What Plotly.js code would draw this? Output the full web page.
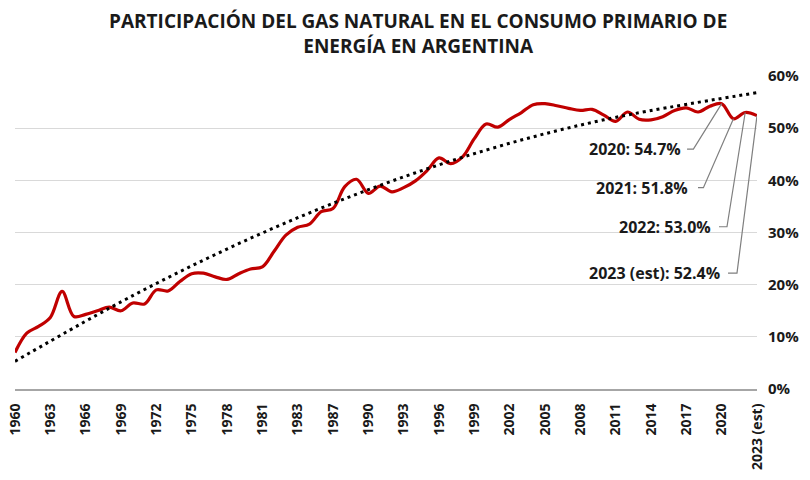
<!DOCTYPE html>
<html>
<head>
<meta charset="utf-8">
<script src="https://cdn.plot.ly/plotly-3.0.1.min.js"></script>
<style>html,body{margin:0;padding:0;background:#fff;}#chart{width:810px;height:480px;}</style>
</head>
<body>
<div id="chart"></div>
<script>
// ---- data ----
const years = [1960,1961,1962,1963,1964,1965,1966,1967,1968,1969,
               1970,1971,1972,1973,1974,1975,1976,1977,1978,1979,
               1980,1981,1982,1983,1984,1985,1986,1987,1988,1989,
               1990,1991,1992,1993,1994,1995,1996,1997,1998,1999,
               2000,2001,2002,2003,2004,2005,2006,2007,2008,2009,
               2010,2011,2012,2013,2014,2015,2016,2017,2018,2019,
               2020,2021,2022,2023];
const gasShare = [7.0,10.7,12.0,13.7,18.7,13.9,14.3,15.0,15.7,15.0,
                  16.5,16.3,19.0,18.8,20.6,22.1,22.2,21.5,21.0,22.1,
                  23.0,23.4,26.4,29.5,31.0,31.6,34.0,34.6,38.8,40.2,
                  37.5,38.9,37.8,38.6,39.9,41.9,44.3,43.2,44.5,48.0,
                  50.8,50.2,51.7,53.0,54.5,54.7,54.3,53.8,53.4,53.6,
                  52.5,51.3,53.1,51.7,51.6,52.2,53.4,53.9,53.1,54.2,
                  54.7,51.8,53.0,52.4];
// trend line (polynomial trend)
const trendYears  = [1960,1970,1980,1990,2000,2010,2023];
const trendValues = [5.3,17.9,28.9,38.2,45.8,51.6,56.8];
// tick labels
const tickYears  = [1960,1963,1966,1969,1972,1975,1978,1981,1984,1987,1990,
                    1993,1996,1999,2002,2005,2008,2011,2014,2017,2020,2023];
const tickLabels = ['1960','1963','1966','1969','1972','1975','1978','1981','1983','1987','1990',
                    '1993','1996','1999','2002','2005','2008','2011','2014','2017','2020','2023 (est)'];
const yTicks = [0,10,20,30,40,50,60];
const yTickLabels = ['0%','10%','20%','30%','40%','50%','60%'];
// labelled points
const labelYears = [2020,2021,2022,2023];
const labelNames = ['2020','2021','2022','2023 (est)'];
const titleText = 'PARTICIPACIÓN DEL GAS NATURAL EN EL CONSUMO PRIMARIO DE<br>ENERGÍA EN ARGENTINA';

// ---- layout helpers (label placement, in axis units) ----
const labelPos = [
  {tx:2016.72, ty:46.0, x0:2017.06, x1:2017.60},
  {tx:2017.31, ty:38.6, x0:2017.99, x1:2018.45},
  {tx:2019.26, ty:31.1, x0:2019.77, x1:2020.45},
  {tx:2020.03, ty:22.2, x0:2020.54, x1:2021.30}
];

const FONT = 'Open Sans, sans-serif';
const traces = [
  {
    x: years, y: gasShare, type: 'scatter', mode: 'lines',
    line: {color: '#c00000', width: 3.2, shape: 'spline', smoothing: 1},
    hoverinfo: 'skip', showlegend: false
  },
  {
    x: trendYears, y: trendValues, type: 'scatter', mode: 'lines',
    line: {color: '#000000', width: 3, shape: 'spline', dash: '3px,4px'},
    hoverinfo: 'skip', showlegend: false
  }
];

const annotations = [];
const shapes = [];
labelYears.forEach((yr, i) => {
  const v = gasShare[years.indexOf(yr)];
  const p = labelPos[i];
  annotations.push({
    x: p.tx, y: p.ty, xref: 'x', yref: 'y',
    text: '<b>' + labelNames[i] + ': ' + v.toFixed(1) + '%</b>',
    showarrow: false, xanchor: 'right', yanchor: 'middle',
    font: {family: FONT, size: 16, color: '#1a1a1a'}
  });
  shapes.push({
    type: 'path', xref: 'x', yref: 'y',
    path: 'M' + p.x0 + ',' + p.ty + ' L' + p.x1 + ',' + p.ty + ' L' + yr + ',' + v,
    line: {color: '#7f7f7f', width: 1.2}
  });
});
// title as a paper annotation
annotations.push({
  xref: 'paper', yref: 'paper', x: 0.543, y: 1.225,
  xanchor: 'center', yanchor: 'top', showarrow: false,
  text: '<b>' + titleText + '</b>',
  font: {family: FONT, size: 19, color: '#1a1a1a'}
});

const layout = {
  width: 810, height: 480,
  paper_bgcolor: '#ffffff', plot_bgcolor: '#ffffff',
  margin: {l: 15, r: 53, t: 76, b: 91},
  xaxis: {
    range: [1960, 2023], tickmode: 'array', tickvals: tickYears, ticktext: tickLabels,
    tickangle: -90, showgrid: false, zeroline: false,
    showline: true, linecolor: '#a6a6a6', linewidth: 2,
    ticks: '', ticklabelstandoff: 7,
    tickfont: {family: FONT, size: 14, color: '#1a1a1a', weight: 'bold'}
  },
  yaxis: {
    range: [0, 60], side: 'right', tickmode: 'array', tickvals: yTicks, ticktext: yTickLabels,
    showgrid: true, gridcolor: '#d9d9d9', gridwidth: 1,
    zeroline: false, showline: false, ticks: '', ticklabelstandoff: 10,
    tickfont: {family: FONT, size: 15, color: '#1a1a1a', weight: 'bold'}
  },
  annotations: annotations,
  shapes: shapes
};

Plotly.newPlot('chart', traces, layout, {staticPlot: true, displayModeBar: false});
</script>
</body>
</html>
